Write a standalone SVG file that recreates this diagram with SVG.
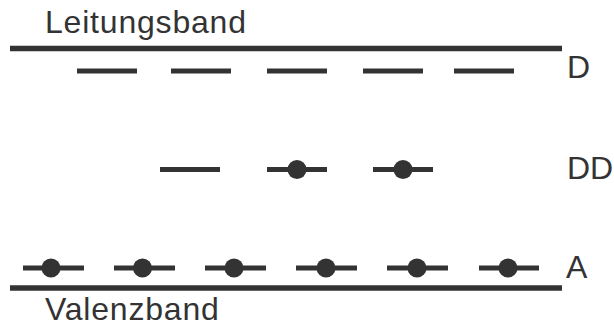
<svg xmlns="http://www.w3.org/2000/svg" width="614" height="325" viewBox="0 0 614 325">
<style>
.band{stroke:#333;stroke-width:5.5;fill:none}
.lvl{stroke:#333;stroke-width:5;fill:none}
.e{fill:#333}
text{font-family:"Liberation Sans",Arial,sans-serif;fill:#333;font-size:32px}
.lbl{letter-spacing:0.8px}
</style>
<rect width="614" height="325" fill="#fff"/>
<g id="leitungsband">
<line class="band" x1="10" y1="48.5" x2="562" y2="48.5"/>
<text class="lbl" x="45" y="33">Leitungsband</text>
</g>
<g id="donor">
<line class="lvl" x1="77" y1="71" x2="137" y2="71"/>
<line class="lvl" x1="171" y1="71" x2="231" y2="71"/>
<line class="lvl" x1="267" y1="71" x2="327" y2="71"/>
<line class="lvl" x1="363" y1="71" x2="423" y2="71"/>
<line class="lvl" x1="454" y1="71" x2="514" y2="71"/>
<text x="567" y="78">D</text>
</g>
<g id="doppeldonor">
<line class="lvl" x1="160" y1="169.5" x2="220" y2="169.5"/>
<line class="lvl" x1="267" y1="169.5" x2="327" y2="169.5"/>
<circle class="e" cx="297" cy="169.5" r="9.5"/>
<line class="lvl" x1="373" y1="169.5" x2="433" y2="169.5"/>
<circle class="e" cx="403" cy="169.5" r="9.5"/>
<text x="567" y="179">DD</text>
</g>
<g id="akzeptor">
<line class="lvl" x1="23" y1="268" x2="84" y2="268"/>
<circle class="e" cx="51" cy="268" r="9.5"/>
<line class="lvl" x1="114" y1="268" x2="175" y2="268"/>
<circle class="e" cx="142.5" cy="268" r="9.5"/>
<line class="lvl" x1="205" y1="268" x2="266" y2="268"/>
<circle class="e" cx="234" cy="268" r="9.5"/>
<line class="lvl" x1="296" y1="268" x2="357" y2="268"/>
<circle class="e" cx="326" cy="268" r="9.5"/>
<line class="lvl" x1="387" y1="268" x2="448" y2="268"/>
<circle class="e" cx="417" cy="268" r="9.5"/>
<line class="lvl" x1="479" y1="268" x2="539" y2="268"/>
<circle class="e" cx="508" cy="268" r="9.5"/>
<text x="566" y="278">A</text>
</g>
<g id="valenzband">
<line class="band" x1="10" y1="288" x2="562" y2="288"/>
<text class="lbl" x="45" y="320">Valenzband</text>
</g>
<g id="connectors"/>
</svg>
